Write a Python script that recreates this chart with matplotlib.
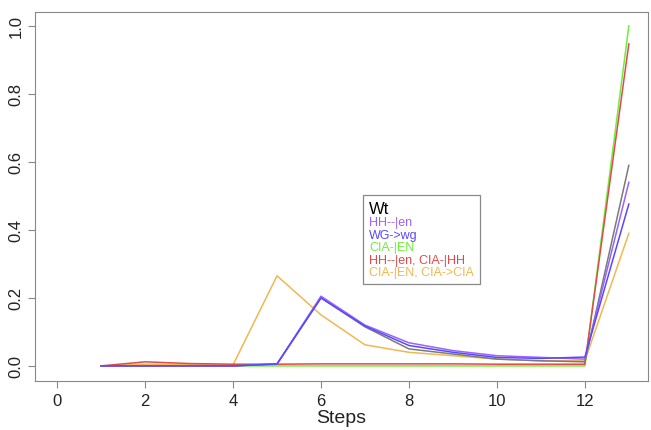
import matplotlib.pyplot as plt
import numpy as np

plt.rcParams['font.family'] = ['Liberation Sans', 'DejaVu Sans']

steps = np.arange(1, 14)

# time courses per condition
wt = [0.0, 0.0, 0.0, 0.0, 0.005, 0.2, 0.115, 0.05, 0.035, 0.02, 0.015, 0.012, 0.59]
hh_en = [0.0, 0.0, 0.0, 0.0, 0.006, 0.205, 0.12, 0.068, 0.045, 0.03, 0.025, 0.02, 0.54]
wg_wg = [0.0, 0.0, 0.0, 0.0, 0.006, 0.2, 0.117, 0.06, 0.04, 0.025, 0.022, 0.026, 0.476]
cia_en = [0.0, 0.0, 0.0, 0.0, 0.0, 0.0, 0.0, 0.0, 0.0, 0.0, 0.0, 0.0, 1.0]
hh_cia = [0.0, 0.012, 0.007, 0.005, 0.005, 0.006, 0.006, 0.006, 0.006, 0.005, 0.005, 0.005, 0.947]
cia_cia = [0.0, 0.005, 0.004, 0.003, 0.265, 0.15, 0.062, 0.04, 0.03, 0.02, 0.015, 0.015, 0.39]

labels = ["HH--|en", "WG->wg", "CIA-|EN", "HH--|en, CIA-|HH", "CIA-|EN, CIA->CIA"]
colors = ["#9a62ff", "#5a48ff", "#6ef03a", "#e04a4a", "#f0b850"]

fig = plt.figure(figsize=(6.51, 4.31), dpi=100)
ax = fig.add_axes([0.054, 0.114, 0.941, 0.856])

ax.plot(steps, cia_cia, color=colors[4], lw=1.1)
ax.plot(steps, cia_en, color=colors[2], lw=1.1)
ax.plot(steps, hh_cia, color=colors[3], lw=1.1)
ax.plot(steps, wt, color="#7a7a7a", lw=1.1)
ax.plot(steps, hh_en, color=colors[0], lw=1.1)
ax.plot(steps, wg_wg, color=colors[1], lw=1.1)

ax.set_xlim(-0.5, 13.43)
ax.set_ylim(-0.044, 1.041)
ax.set_xticks(np.arange(0, 13, 2))
ax.set_yticks([0.0, 0.2, 0.4, 0.6, 0.8, 1.0])
ax.set_yticklabels(["0.0", "0.2", "0.4", "0.6", "0.8", "1.0"], rotation=90, va='center')
for s in ax.spines.values():
    s.set_color("#888888")
ax.tick_params(colors="#888888", labelcolor="#222222", labelsize=12, length=5, width=0.8)
ax.set_xlabel("Steps", fontsize=14, color="#222222", labelpad=1)

handles = [plt.Line2D([], [], color=c, lw=0) for c in colors]
leg = ax.legend(handles, labels, title="Wt", title_fontsize=12, alignment='left',
                fontsize=9, handlelength=0, handletextpad=0, labelspacing=0.04,
                loc='upper left', bbox_to_anchor=(0.535, 0.504), borderpad=0.5,
                borderaxespad=0, fancybox=False, framealpha=1, edgecolor="#888888")
leg.get_frame().set_linewidth(0.9)
leg._legend_box.sep = 0
for t, c in zip(leg.get_texts(), colors):
    t.set_color(c)

fig.savefig("out.png", dpi=100)
